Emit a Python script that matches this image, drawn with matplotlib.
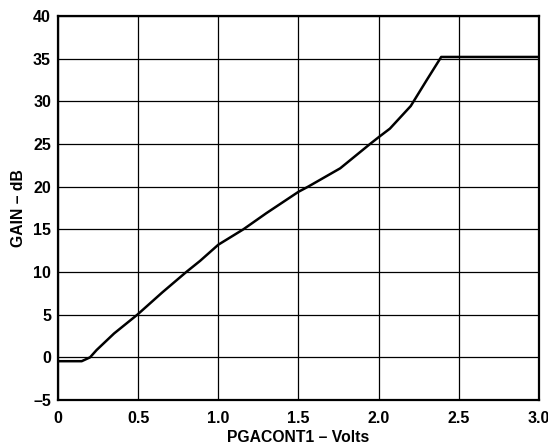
import matplotlib.pyplot as plt
from matplotlib.ticker import FuncFormatter

plt.rcParams["font.family"] = ["Liberation Sans", "DejaVu Sans"]
plt.rcParams["font.weight"] = "bold"

# gain curve
pgacont_v = [0.0, 0.148, 0.20, 0.241, 0.35, 0.495, 0.65, 0.80, 0.886, 1.0,
             1.156, 1.30, 1.50, 1.56, 1.76, 1.946, 2.0, 2.07, 2.2, 2.3,
             2.39, 3.0]
gain_db = [-0.45, -0.45, 0.0, 0.86, 2.8, 5.0, 7.6, 10.0, 11.3, 13.2,
           15.0, 16.9, 19.4, 20.0, 22.15, 25.0, 25.8, 26.8, 29.45, 32.5,
           35.2, 35.2]

X_TICKS = [0, 0.5, 1.0, 1.5, 2.0, 2.5, 3.0]
X_LABELS = ["0", "0.5", "1.0", "1.5", "2.0", "2.5", "3.0"]
Y_TICKS = list(range(-5, 41, 5))

fig = plt.figure(figsize=(5.48, 4.48), dpi=100)
ax = fig.add_axes([0.1058, 0.1071, 0.8778, 0.8572])

ax.plot(pgacont_v, gain_db, color="black", linewidth=1.8, solid_joinstyle="round")

ax.set_xlim(0, 3.0)
ax.set_ylim(-5, 40)
ax.set_xticks(X_TICKS)
ax.set_xticklabels(X_LABELS)
ax.set_yticks(Y_TICKS)
ax.yaxis.set_major_formatter(FuncFormatter(lambda v, p: f"{v:.0f}".replace("-", "\u2013")))
ax.tick_params(length=0, labelsize=11.5)
ax.tick_params(axis="x", pad=8)
ax.tick_params(axis="y", pad=5)
for lbl in ax.get_xticklabels() + ax.get_yticklabels():
    lbl.set_fontweight("bold")

ax.grid(True, color="black", linewidth=0.9)
for sp in ax.spines.values():
    sp.set_linewidth(1.6)

ax.set_xlabel("PGACONT1 \u2013 Volts", fontsize=11.3, fontweight="bold", labelpad=3)
ax.set_ylabel("GAIN \u2013 dB", fontsize=11.3, fontweight="bold", labelpad=5)

fig.savefig("out.png", dpi=100)
